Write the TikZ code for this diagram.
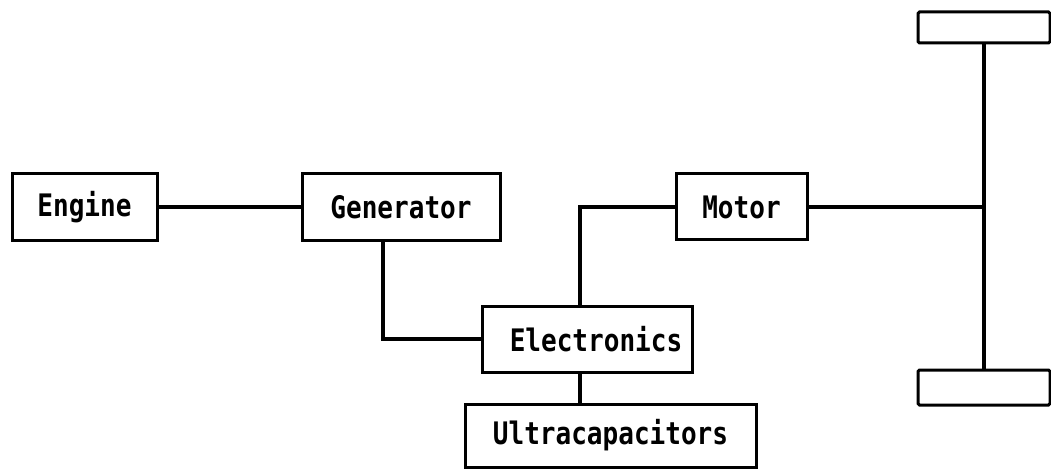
\documentclass[tikz,border=0pt]{standalone}
\usepackage{fontspec}
\usetikzlibrary{positioning}
\newfontfamily\labelfont[FakeStretch=0.84]{DejaVu Sans Mono}

\begin{document}
\begin{tikzpicture}[
  x=1pt, y=-1pt,
  line width=3pt,
  unit/.style={rectangle, draw, inner sep=0pt, font=\labelfont\bfseries\fontsize{31}{33}\selectfont},
  wheel/.style={rectangle, draw, rounded corners=1.5pt, minimum width=132pt},
  link/.style={draw, line width=3.2pt}
]
  \useasboundingbox (0,0) rectangle (1051,470);
  \node[unit, minimum width=145pt, minimum height=67pt] (engine) at (84.5,207) {Engine};
  \node[unit, minimum width=198pt, minimum height=67pt] (generator) at (401,207) {Generator};
  \node[unit, minimum width=131pt, minimum height=66pt] (motor) at (741.5,207) {Motor};
  \node[unit, minimum width=210pt, minimum height=66pt] (electronics) at (587,339) {\hspace*{18pt}Electronics};
  \node[unit, minimum width=291pt, minimum height=63pt] (ultracap) at (610.5,435.5) {Ultracapacitors};
  \node[wheel, minimum height=31pt] (topwheel) at (984,27.5) {};
  \node[wheel, minimum height=35pt] (botwheel) at (984,387.5) {};
  \coordinate (hub) at (motor -| topwheel);
  \draw[link] (engine) -- (generator);
  \draw[link] ([xshift=-18pt]generator.south) |- (electronics.west);
  \draw[link] ([xshift=-7pt]electronics.north) |- (motor.west);
  \draw[link] ([xshift=-7pt]electronics.south) -- ([xshift=-7pt]electronics.south |- ultracap.north);
  \draw[link] (topwheel) -- (botwheel);
  \draw[link] (motor) -- (hub);
\end{tikzpicture}
\end{document}
